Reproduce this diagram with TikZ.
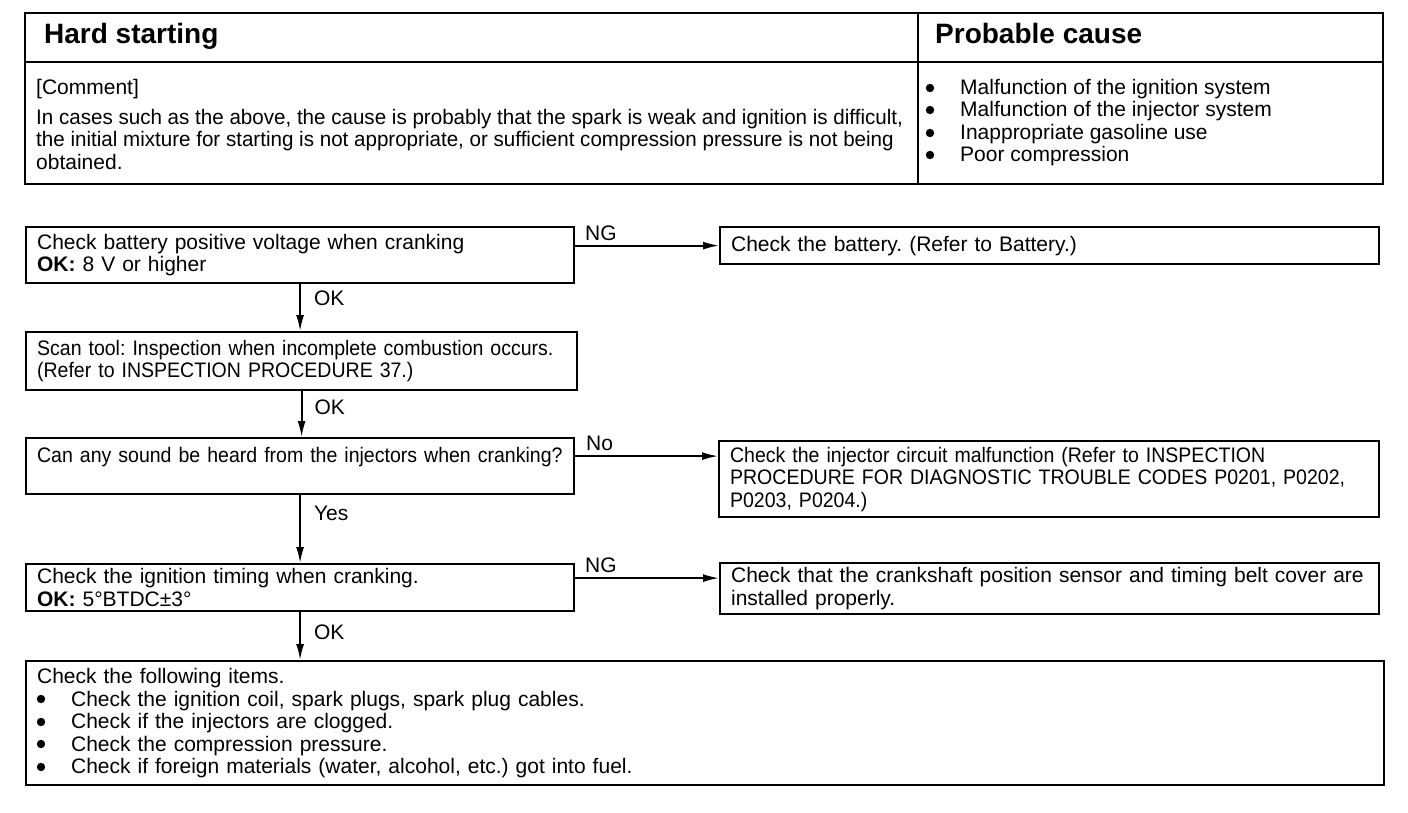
\documentclass[tikz,border=0pt]{standalone}
\usepackage{fontspec}
\setmainfont{Liberation Sans}
\newfontfamily\narrowfont[FakeStretch=0.93]{Liberation Sans}
\newfontfamily\slimfont[FakeStretch=0.98]{Liberation Sans}
\usetikzlibrary{arrows.meta}
\frenchspacing
\newcommand\itemgap{\hspace*{34pt}}
\tikzset{
 frame/.style={line width=2.2pt},
 box/.style={draw,line width=2.2pt,inner xsep=11pt,inner ysep=0pt,anchor=north west,align=left},
 head/.style={inner sep=0pt,anchor=base west,font=\fontsize{28}{30}\selectfont\bfseries},
 txt/.style={inner sep=0pt,anchor=north west,align=left},
 lbl/.style={inner sep=0pt,anchor=base west},
 narrow/.style={font=\narrowfont\fontsize{21}{22.5}\selectfont},
 arr/.style={line width=1.8pt,-{Latex[length=16pt,width=8pt]}}}

\begin{document}
\begin{tikzpicture}[x=1pt,y=-1pt,font=\fontsize{21}{22.5}\selectfont]
 \useasboundingbox (0,0) rectangle (1408,812);
 % table at the top
 \draw[frame] (25,13) rectangle (1383,184);
 \draw[frame] (25,62) -- (1383,62) (918,13) -- (918,184);
 \node[head] (hard) at (44,43) {Hard starting};
 \node[head] (cause) at (935,43) {Probable cause};
 \node[txt] (comment) at (36,79) {[Comment]\\[7.5pt]
  {\slimfont In cases such as the above, the cause is probably that the spark is weak and ignition is difficult,}\\
  {\slimfont the initial mixture for starting is not appropriate, or sufficient compression pressure is not being}\\
  obtained.};
 \node[txt] (causes) at (926,79) {\itemgap Malfunction of the ignition system\\
  \itemgap Malfunction of the injector system\\
  \itemgap Inappropriate gasoline use\\
  \itemgap Poor compression};
 \foreach \y in {88,110,133,155} \fill (930,\y) circle (4.2pt);
 % flow chart
 \node[box,text width=526pt,minimum height=56pt] (batt) at (25,226)
  {Check battery positive voltage when cranking\\\textbf{OK:} 8 V or higher};
 \node[box,text width=637pt,minimum height=37pt] (battfix) at (719,226)
  {Check the battery. (Refer to Battery.)};
 \node[box,narrow,text width=529pt,minimum height=58pt] (scan) at (25,331)
  {Scan tool: Inspection when incomplete combustion occurs.\\(Refer to INSPECTION PROCEDURE 37.)};
 \node[box,narrow,text width=526pt,minimum height=56pt] (inj) at (25,437)
  {\mbox{Can any sound be heard from the injectors when cranking?}\\\mbox{}};
 \node[box,narrow,text width=638pt,minimum height=76pt] (injfix) at (718,440)
  {Check the injector circuit malfunction (Refer to INSPECTION\\
   PROCEDURE FOR DIAGNOSTIC TROUBLE CODES P0201, P0202,\\P0203, P0204.)};
 \node[box,text width=526pt,minimum height=47pt] (timing) at (25,563)
  {Check the ignition timing when cranking.\\\textbf{OK:} 5°BTDC±3°};
 \node[box,text width=637pt,minimum height=51pt] (timfix) at (719,562)
  {Check that the crankshaft position sensor and timing belt cover are\\installed properly.};
 \node[box,text width=1336pt,minimum height=124pt] (items) at (25,660)
  {Check the following items.\\
   \itemgap Check the ignition coil, spark plugs, spark plug cables.\\
   \itemgap Check if the injectors are clogged.\\
   \itemgap Check the compression pressure.\\
   \itemgap Check if foreign materials (water, alcohol, etc.) got into fuel.};
 \foreach \y in {699,722,744,767} \fill (41,\y) circle (4.2pt);
 % connectors
 \draw[arr] (batt.east |- battfix.west) -- (battfix.west)
  node[lbl,pos=0,xshift=9pt,yshift=5pt] (ng1) {NG};
 \draw[arr] (batt.south) -- (batt.south |- scan.north)
  node[lbl,pos=0,xshift=13pt,yshift=-21.5pt] (ok1) {OK};
 \draw[arr] (scan.south) -- (scan.south |- inj.north)
  node[lbl,pos=0,xshift=12pt,yshift=-23.5pt] (ok2) {OK};
 \draw[arr] ([yshift=10pt]inj.east) -- ([yshift=10pt]inj.east -| injfix.west)
  node[lbl,pos=0,xshift=10pt,yshift=5.5pt] (no) {No};
 \draw[arr] (inj.south) -- (inj.south |- timing.north)
  node[lbl,pos=0,xshift=13pt,yshift=-25.5pt] (yes) {Yes};
 \draw[arr] ([yshift=9.5pt]timing.east) -- ([yshift=9.5pt]timing.east -| timfix.west)
  node[lbl,pos=0,xshift=9pt,yshift=5.5pt] (ng2) {NG};
 \draw[arr] (timing.south) -- (timing.south |- items.north)
  node[lbl,pos=0,xshift=13pt,yshift=-27.5pt] (ok3) {OK};
\end{tikzpicture}
\end{document}
